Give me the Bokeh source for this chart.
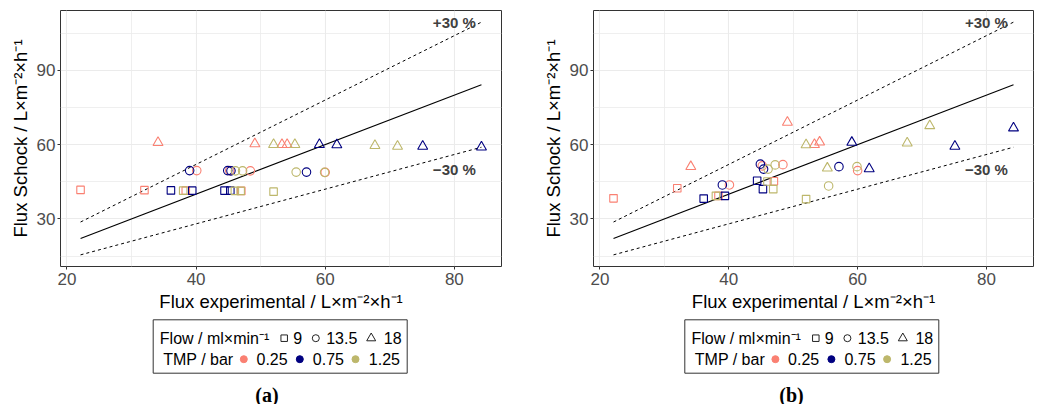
from bokeh.plotting import figure
from bokeh.layouts import row, column
from bokeh.models import ColumnDataSource, FixedTicker, Range1d
from bokeh.core.properties import value
from bokeh.embed import file_html
from bokeh.resources import INLINE

# ---------------- data ----------------
flow_levels = [9, 13.5, 18]
flow_markers = ["square", "circle", "triangle"]
flow_sizes = [7.5, 8.5, 10]
tmp_levels = [0.25, 0.75, 1.25]
tmp_colors = ["#FA8072", "#000080", "#BDB76B"]

flow = [9] * 12 + [13.5] * 12 + [18] * 12
tmp = ([0.25] * 4 + [0.75] * 4 + [1.25] * 4) * 3

flux_exp = [22.1, 32.0, 38.4, 47.0,  36.1, 39.4, 44.4, 45.3,  38.0, 46.0, 46.9, 52.0,
            40.1, 45.2, 48.4, 60.0,  39.0, 44.9, 45.4, 57.1,  46.1, 47.2, 55.5, 59.9,
            34.1, 49.1, 53.3, 54.1,  59.1, 61.8, 75.1, 84.2,  52.0, 55.3, 67.7, 71.2]
schock_a = [41.7, 41.6, 41.4, 41.3,  41.5, 41.4, 41.4, 41.4,  41.4, 41.3, 41.3, 41.0,
            49.5, 49.5, 49.4, 48.8,  49.5, 49.5, 49.4, 48.9,  49.4, 49.4, 48.9, 48.8,
            60.8, 60.3, 60.0, 60.0,  60.0, 59.9, 59.3, 59.0,  60.0, 60.0, 59.6, 59.3]
schock_b = [38.3, 42.4, 39.3, 45.2,  38.2, 39.3, 45.4, 42.0,  39.3, 45.1, 42.0, 38.0,
            43.7, 51.4, 51.9, 49.5,  43.7, 52.1, 50.1, 51.1,  50.1, 51.8, 43.3, 51.1,
            51.1, 69.0, 60.0, 61.0,  60.9, 50.2, 59.3, 66.7,  59.9, 50.5, 60.6, 67.6]

x_ticks = [20, 40, 60, 80]
x_minor = [30, 50, 70]
y_ticks = [30, 60, 90]
y_minor = [15, 45, 75, 105]

band = 0.30
band_labels = ["+30 %", "\u221230 %"]
band_label_x = 80
band_label_y = [109.5, 50.0]

x_title = "Flux experimental / L\u00d7m\u207b\u00b2\u00d7h\u207b\u00b9"
y_title = "Flux Schock / L\u00d7m\u207b\u00b2\u00d7h\u207b\u00b9"
flow_title = "Flow / ml\u00d7min\u207b\u00b9"
tmp_title = "TMP / bar"

FONT = "Liberation Sans"
MAIN_H = 317
LEG_H = 87


def make_main(yvals, width, left, right):
    x0, x1 = min(flux_exp), max(flux_exp)
    ylo, yhi = (1 - band) * x0, (1 + band) * x1
    xp = 0.05 * (x1 - x0)
    yp = 0.05 * (yhi - ylo)
    p = figure(width=width, height=MAIN_H,
               x_range=Range1d(x0 - xp, x1 + xp), y_range=Range1d(ylo - yp, yhi + yp),
               output_backend="svg", toolbar_location=None,
               min_border_left=left, min_border_right=right,
               min_border_top=10, min_border_bottom=51)
    p.outline_line_color = "#333333"
    p.outline_line_width = 1
    p.background_fill_color = "white"

    xt = FixedTicker(ticks=x_ticks, minor_ticks=x_minor)
    yt = FixedTicker(ticks=y_ticks, minor_ticks=y_minor)
    p.xaxis.ticker = xt
    p.yaxis.ticker = yt
    p.xgrid.ticker = xt
    p.ygrid.ticker = yt
    for g in (p.xgrid, p.ygrid):
        g.grid_line_color = "#ebebeb"
        g.grid_line_width = 1.1
        g.minor_grid_line_color = "#ebebeb"
        g.minor_grid_line_width = 0.8

    p.axis.axis_line_color = None
    p.axis.major_tick_line_color = "#333333"
    p.axis.major_tick_out = 3
    p.axis.major_tick_in = 0
    p.axis.minor_tick_line_color = None
    p.axis.major_label_text_font = FONT
    p.axis.major_label_text_font_size = "17px"
    p.axis.major_label_text_color = "#4d4d4d"
    p.axis.axis_label_text_font = FONT
    p.axis.axis_label_text_font_size = "18.5px"
    p.axis.axis_label_text_font_style = "normal"
    p.axis.axis_label_text_color = "black"
    p.xaxis.major_label_standoff = 2
    p.xaxis.axis_label_standoff = 3
    p.yaxis.major_label_standoff = 1
    p.yaxis.axis_label_standoff = 3
    p.xaxis.axis_label = x_title
    p.yaxis.axis_label = y_title

    xs = [x0, x1]
    p.line(xs, [x0, x1], line_color="black", line_width=1.1)
    p.line(xs, [(1 + band) * x0, (1 + band) * x1], line_color="black",
           line_width=1, line_dash="3 3")
    p.line(xs, [(1 - band) * x0, (1 - band) * x1], line_color="black",
           line_width=1, line_dash="3 3")

    for fl, mk, sz in zip(flow_levels, flow_markers, flow_sizes):
        idx = [i for i in range(len(flow)) if flow[i] == fl]
        src = ColumnDataSource(dict(
            x=[flux_exp[i] for i in idx],
            y=[yvals[i] for i in idx],
            c=[tmp_colors[tmp_levels.index(tmp[i])] for i in idx]))
        p.scatter("x", "y", source=src, marker=mk, size=sz, fill_color=None,
                  line_color="c", line_width=1.1)

    p.text(x=[band_label_x] * 2, y=band_label_y, text=band_labels,
           text_font=value(FONT), text_font_style="bold", text_font_size="15px",
           text_color="#404040", text_align="center", text_baseline="middle")
    return p


def make_legend(width, left, right, bl, tag, tag_x):
    # frame is aligned with the main plot's frame; x range is in figure pixels
    p = figure(width=width, height=LEG_H, x_range=Range1d(left, width - right),
               y_range=Range1d(LEG_H, 0), x_axis_type=None, y_axis_type=None,
               output_backend="svg", toolbar_location=None,
               min_border_left=left, min_border_right=right,
               min_border_top=0, min_border_bottom=0)
    p.outline_line_color = None
    p.grid.visible = False
    top, bot = 2.3, 55.7
    r1, r2 = 20.7, 41.7
    p.quad(left=[bl], right=[bl + 254], top=[top], bottom=[bot],
           fill_color=None, line_color="#333333", line_width=1)
    # row 1: flow
    txt_x = [bl + 6.6, bl + 140, bl + 173, bl + 230.6]
    txt = [flow_title] + [("%g" % f) for f in flow_levels]
    p.text(x=txt_x, y=[r1] * 4, text=txt, text_font=value(FONT),
           text_font_size="16px", text_baseline="middle", text_align="left",
           text_color="black")
    for mk, xx, sz in zip(flow_markers, [bl + 131, bl + 162.6, bl + 218], [6.5, 7, 9]):
        p.scatter([xx], [r1], marker=mk, size=sz, fill_color=None,
                  line_color="#222222", line_width=1)
    # row 2: tmp
    txt_x2 = [bl + 10, bl + 103.3, bl + 159.6, bl + 215.6]
    txt2 = [tmp_title] + [("%.2f" % t) for t in tmp_levels]
    p.text(x=txt_x2, y=[r2] * 4, text=txt2, text_font=value(FONT),
           text_font_size="16px", text_baseline="middle", text_align="left",
           text_color="black")
    p.scatter([bl + 90.6, bl + 146.6, bl + 202.3], [r2] * 3, marker="circle",
              size=7, fill_color=tmp_colors, line_color=tmp_colors)
    p.text(x=[tag_x], y=[77], text=[tag], text_font=value("Liberation Serif"),
           text_font_style="bold", text_font_size="20px", text_align="center",
           text_baseline="middle", text_color="black")
    return p


WA, LA, RA = 535, 60, 34
WB, LB, RB = 506, 58, 8

pa = make_main(schock_a, WA, LA, RA)
pb = make_main(schock_b, WB, LB, RB)
la = make_legend(WA, LA, RA, 152.7, "(a)", 266.5)
lb = make_legend(WB, LB, RB, 684.3 - WA, "(b)", 791 - WA)

layout = row(column(pa, la), column(pb, lb))
open("out.html", "w").write(file_html(layout, INLINE))
